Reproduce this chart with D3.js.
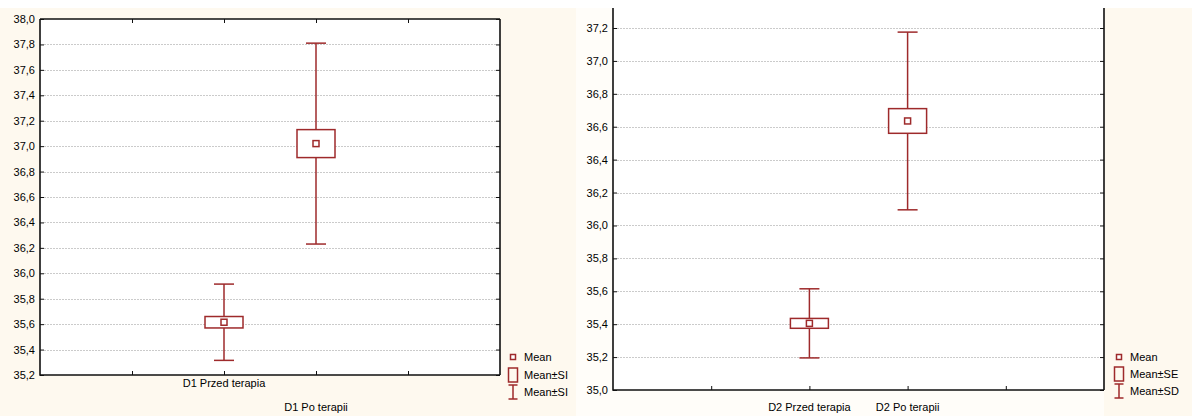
<!DOCTYPE html>
<html>
<head>
<meta charset="utf-8">
<script src="https://cdn.jsdelivr.net/npm/d3@7"></script>
<style>
  body { margin: 0; background: #ffffff; }
  svg { display: block; font-family: "Liberation Sans", Arial, sans-serif; }
</style>
</head>
<body>
<div id="chart"></div>
<script>
// panel 1 data
const d1Labels = ["D1 Przed terapia", "D1 Po terapii"];
const d1Mean = [35.615, 37.02];
const d1SE = [0.045, 0.11];
const d1SD = [0.30, 0.79];
const d1Ticks = [35.2, 35.4, 35.6, 35.8, 36.0, 36.2, 36.4, 36.6, 36.8, 37.0, 37.2, 37.4, 37.6, 37.8, 38.0];
const d1Legend = ["Mean", "Mean±SI", "Mean±SI"];

// panel 2 data
const d2Labels = ["D2 Przed terapia", "D2 Po terapii"];
const d2Mean = [35.405, 36.635];
const d2SE = [0.03, 0.075];
const d2SD = [0.21, 0.54];
const d2Ticks = [35.0, 35.2, 35.4, 35.6, 35.8, 36.0, 36.2, 36.4, 36.6, 36.8, 37.0, 37.2];
const d2Legend = ["Mean", "Mean±SE", "Mean±SD"];

const W = 1192, H = 416;
const red = "#9e2a2b";
const cream = "#fef9ef";
const fmt = v => d3.format(".1f")(v).replace(".", ",");

const svg = d3.select("#chart").append("svg")
  .attr("width", W)
  .attr("height", H);

// backgrounds
svg.append("rect").attr("x", 0).attr("y", 0).attr("width", W).attr("height", H).attr("fill", "#ffffff");
svg.append("rect").attr("x", 0).attr("y", 8).attr("width", 576).attr("height", H - 8).attr("fill", cream);
svg.append("rect").attr("x", 576).attr("y", 8).attr("width", 528).attr("height", H - 8).attr("fill", "#fffdf9");
svg.append("rect").attr("x", 1104).attr("y", 8).attr("width", W - 1104).attr("height", H - 8).attr("fill", cream);

function panel(cfg) {
  const { left, right, top, frameTop, bottom, domain, ticks, labels, mean, se, sd, legend, legendX, labelRows } = cfg;

  const x = d3.scaleLinear().domain([0, 5]).range([left, right]);
  const y = d3.scaleLinear().domain(domain).range([bottom, top]);
  const g = svg.append("g");

  g.append("rect")
    .attr("x", left).attr("y", frameTop)
    .attr("width", right - left).attr("height", bottom - frameTop)
    .attr("fill", "#ffffff");

  // grid
  g.append("g").selectAll("line")
    .data(ticks.filter(t => y(t) > frameTop + 2 && y(t) < bottom - 2))
    .join("line")
    .attr("x1", left + 4).attr("x2", right - 4)
    .attr("y1", d => Math.round(y(d)) + 0.5).attr("y2", d => Math.round(y(d)) + 0.5)
    .attr("stroke", "#cbcbcb")
    .attr("stroke-dasharray", "2,1");

  // y axis (ticks inward)
  const ya = g.append("g")
    .attr("transform", `translate(${left},0)`)
    .call(d3.axisLeft(y).tickValues(ticks).tickFormat(fmt).tickSize(-4).tickPadding(5));
  ya.select(".domain").remove();
  ya.selectAll("text").attr("font-size", 11).attr("fill", "#000");
  ya.selectAll("line").attr("stroke", "#111");

  const yr = g.append("g")
    .attr("transform", `translate(${right},0)`)
    .call(d3.axisRight(y).tickValues(ticks).tickFormat("").tickSize(-4));
  yr.select(".domain").remove();
  yr.selectAll("line").attr("stroke", "#111");

  // x ticks
  const xb = g.append("g")
    .attr("transform", `translate(0,${bottom})`)
    .call(d3.axisBottom(x).tickValues([1, 2, 3, 4]).tickFormat("").tickSize(-4));
  xb.select(".domain").remove();
  xb.selectAll("line").attr("stroke", "#111");
  if (cfg.topBorder) {
    const xt = g.append("g")
      .attr("transform", `translate(0,${frameTop})`)
      .call(d3.axisTop(x).tickValues([1, 2, 3, 4]).tickFormat("").tickSize(-4));
    xt.select(".domain").remove();
    xt.selectAll("line").attr("stroke", "#111");
  }

  // frame
  const fr = d3.path();
  if (cfg.topBorder) {
    fr.moveTo(left, frameTop); fr.lineTo(right, frameTop);
  }
  fr.moveTo(left, frameTop); fr.lineTo(left, bottom); fr.lineTo(right, bottom);
  fr.moveTo(right, frameTop); fr.lineTo(right, bottom);
  g.append("path").attr("d", fr.toString())
    .attr("fill", "none").attr("stroke", "#111").attr("stroke-width", 1.6);

  // x labels
  g.append("g").selectAll("text")
    .data(labels)
    .join("text")
    .attr("x", (d, i) => x(i + 2))
    .attr("y", (d, i) => labelRows[i])
    .attr("text-anchor", "middle")
    .attr("font-size", 11)
    .attr("fill", "#000")
    .text(d => d);

  // error bars
  const cats = g.append("g").selectAll("g")
    .data(mean.map((m, i) => ({ m, se: se[i], sd: sd[i], i })))
    .join("g")
    .attr("fill", "none")
    .attr("stroke", red)
    .attr("stroke-width", 1.5);

  cats.append("line")
    .attr("x1", d => x(d.i + 2)).attr("x2", d => x(d.i + 2))
    .attr("y1", d => y(d.m + d.sd)).attr("y2", d => y(d.m - d.sd));
  cats.append("line")
    .attr("x1", d => x(d.i + 2) - 10).attr("x2", d => x(d.i + 2) + 10)
    .attr("y1", d => y(d.m + d.sd)).attr("y2", d => y(d.m + d.sd));
  cats.append("line")
    .attr("x1", d => x(d.i + 2) - 10).attr("x2", d => x(d.i + 2) + 10)
    .attr("y1", d => y(d.m - d.sd)).attr("y2", d => y(d.m - d.sd));
  cats.append("rect")
    .attr("x", d => x(d.i + 2) - 19).attr("width", 38)
    .attr("y", d => y(d.m + d.se)).attr("height", d => y(d.m - d.se) - y(d.m + d.se))
    .attr("fill", "#ffffff");
  cats.append("rect")
    .attr("x", d => x(d.i + 2) - 3).attr("width", 6)
    .attr("y", d => y(d.m) - 3).attr("height", 6)
    .attr("fill", "#ffffff");

  // legend
  const lg = g.append("g").attr("transform", `translate(${legendX},0)`);
  const ly = cfg.legendY;
  lg.append("rect").attr("x", -2.5).attr("y", ly[0] - 2.5).attr("width", 5).attr("height", 5)
    .attr("fill", "#fff").attr("stroke", red).attr("stroke-width", 1.5);
  lg.append("rect").attr("x", -4.5).attr("y", ly[1] - 7).attr("width", 9).attr("height", 14)
    .attr("fill", "none").attr("stroke", red).attr("stroke-width", 1.5);
  lg.append("path")
    .attr("d", `M-4.5,${ly[2] - 7}H4.5M0,${ly[2] - 7}V${ly[2] + 7}M-4.5,${ly[2] + 7}H4.5`)
    .attr("fill", "none").attr("stroke", red).attr("stroke-width", 1.5);
  lg.selectAll("text")
    .data(legend)
    .join("text")
    .attr("x", 11)
    .attr("y", (d, i) => ly[i])
    .attr("dy", "0.35em")
    .attr("font-size", 11)
    .attr("fill", "#000")
    .text(d => d);
}

panel({
  left: 40, right: 500, top: 19, frameTop: 19, bottom: 375,
  domain: [35.2, 38.0], ticks: d1Ticks,
  labels: d1Labels, mean: d1Mean, se: d1SE, sd: d1SD,
  legend: d1Legend, legendX: 513, legendY: [357, 375, 392],
  labelRows: [387, 411], topBorder: true
});

panel({
  left: 613, right: 1104, top: 28, frameTop: 8, bottom: 390,
  domain: [35.0, 37.2], ticks: d2Ticks,
  labels: d2Labels, mean: d2Mean, se: d2SE, sd: d2SD,
  legend: d2Legend, legendX: 1119, legendY: [357, 374, 391],
  labelRows: [411, 411], topBorder: false
});
</script>
</body>
</html>
